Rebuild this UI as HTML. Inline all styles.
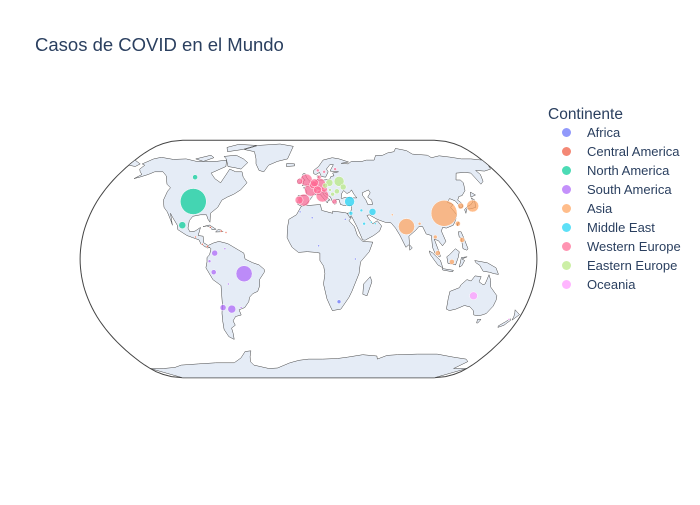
<!DOCTYPE html>
<html><head><meta charset="utf-8">
<style>
body{margin:0;background:#fff;font-family:"Liberation Sans",Arial,sans-serif;}
svg text{font-family:"Liberation Sans",Arial,sans-serif;fill:#2a3f5f;}
</style></head>
<body>
<svg id="chart" width="700" height="500" xmlns="http://www.w3.org/2000/svg">
<rect width="700" height="500" fill="#fff"/>
<text x="35" y="51" font-size="18.5">Casos de COVID en el Mundo</text>
<g id="map"></g>
<g id="bubbles"></g>
<g id="legend">
<text x="548" y="119" font-size="15.5">Continente</text>
</g>
</svg>
<script>
const continents = ["Africa","Central America","North America","South America","Asia","Middle East","Western Europe","Eastern Europe","Oceania"];
const colors = ["#636efa","#EF553B","#00cc96","#ab63fa","#FFA15A","#19d3f3","#FF6692","#B6E880","#FF97FF"];
const countries = ["USA","Canada","Mexico","Cuba","Dominican Rep.","Panama","Costa Rica","Guatemala","Puerto Rico","Brazil","Colombia","Peru","Chile","Argentina","Ecuador","Bolivia","Venezuela","Uruguay","South Africa","Algeria","Egypt","Morocco","Nigeria","Kenya","China","India","Japan","South Korea","Philippines","Thailand","Malaysia","Indonesia","Pakistan","Taiwan","Bangladesh","Turkey","Iran","Israel","Saudi Arabia","Qatar","Iraq","UAE","Spain","France","Italy","Germany","UK","Belgium","Netherlands","Switzerland","Portugal","Austria","Sweden","Norway","Denmark","Ireland","Finland","Greece","Belarus","Poland","Czechia","Romania","Ukraine","Serbia","Hungary","Australia","New Zealand"];
const countryContinent = [2,2,2,1,1,1,1,1,1,3,3,3,3,3,3,3,3,3,0,0,0,0,0,0,4,4,4,4,4,4,4,4,4,4,4,5,5,5,5,5,5,5,6,6,6,6,6,6,6,6,6,6,6,6,6,6,6,6,7,7,7,7,7,7,7,8,8];
const lons = [-98,-106,-102,-79,-70,-80,-84,-90,-66,-51,-74,-75,-71,-64,-78,-64,-66,-56,25,3,30,-7,8,37,112,79,138,128,122,101,102,113,69,121,90,35,53,35,45,51,44,54,-4,2,12,10,-2,4.5,5.5,8,-8,14,15,9,10,-8,26,22,28,19,15,25,31,21,19,134,172];
const lats = [39,56,23,21.5,19,8.5,10,15,18,-10,4,-9,-33,-34,-1.5,-17,7,-33,-29,28,27,32,9,0,31,22,36,36,13,15,4,-2,30,24,24,39,32,31,24,25,33,24,40,47,43,51,54,50.5,52,47,40,47.5,60,61,56,53,62,39,53,52,50,46,49,44,47,-25,-41];
const cases = [170000,6400,12500,1000,1300,1300,1000,1000,1000,66000,9000,6500,9000,16000,2200,1000,1000,1000,4000,1000,1000,1000,1000,1000,170000,66000,36000,9000,6500,4000,6500,6500,1000,6500,2200,25000,12500,4000,2200,1000,2200,1000,36000,40000,40000,36000,36000,16000,16000,16000,16000,9000,2200,2200,4000,9000,2200,6500,25000,12500,6500,6500,9000,4000,2200,16000,1000];

const SCALE=83.5, CX=308.5, CY=259, RMAX=13;
function proj(lon,lat){
  const l=lon*Math.PI/180, p=lat*Math.PI/180, p2=p*p, p4=p2*p2, p6=p4*p2, p8=p4*p4, p10=p8*p2, p12=p10*p2;
  const x=l*(0.8707-0.131979*p2-0.013791*p4+0.003971*p10-0.001529*p12);
  const y=p*(1.007226+0.015085*p2-0.044475*p6+0.028874*p8-0.005916*p10);
  return [CX+x*SCALE, CY-y*SCALE];
}
function pathOf(pts,close){return pts.map((q,i)=>{const r=proj(q[0],q[1]);return (i?'L':'M')+r[0].toFixed(1)+','+r[1].toFixed(1);}).join('')+(close?'Z':'');}
const NS='http://www.w3.org/2000/svg';
const map=document.getElementById('map');
let fr=[];for(let la=-90;la<=90;la+=3)fr.push([-180,la]);for(let la=90;la>=-90;la-=3)fr.push([180,la]);
const frame=document.createElementNS(NS,'path');frame.setAttribute('d',pathOf(fr,true));frame.setAttribute('fill','#fff');frame.setAttribute('stroke','#444');frame.setAttribute('stroke-width','1');


map.appendChild(frame);
const lands={
"north-america":[[-168,66],[-162,70],[-156,71.3],[-141,69.6],[-128,70],[-115,68],[-95,68],[-85,69],[-82,64],[-93,59],[-87,55],[-80,52],[-78,58],[-77,62],[-70,60],[-64,60],[-61,56],[-56,52],[-60,47],[-65,44],[-70,42],[-74,40],[-76,35],[-81,31],[-80,25],[-82,27],[-84,30],[-89,30],[-95,29],[-97,26],[-97,21],[-95,18.5],[-91,19],[-87,21.5],[-88,16],[-84,15.5],[-83,11],[-79,9],[-77,8],[-80,7.5],[-85,10],[-87,13],[-92,14.5],[-97,16],[-105,20],[-106,23],[-112,29],[-114,31],[-110,23],[-112,26],[-117,32],[-121,35],[-124,40],[-124,46],[-123,48.5],[-128,51],[-134,57],[-140,60],[-148,60],[-152,58],[-158,56],[-162,55],[-158,58],[-162,60],[-165,62],[-164,65]],
"greenland":[[-73,78],[-60,82],[-35,83.5],[-18,81],[-20,75],[-22,70],[-32,68],[-40,65],[-43,60],[-48,61],[-53,66],[-55,70],[-60,76]],
"baffin":[[-90,72],[-78,73],[-68,70],[-62,67],[-66,62],[-72,63],[-80,64],[-86,70]],
"victoria":[[-118,70],[-105,73],[-100,71],[-108,68]],
"ellesmere":[[-90,76],[-75,78],[-62,82],[-85,83],[-95,80]],
"south-america":[[-80,9],[-75,11],[-71,12],[-64,10.5],[-60,8.5],[-55,6],[-51,4],[-50,0],[-44,-2.5],[-39,-4],[-35,-7],[-35,-9],[-39,-14],[-39,-18],[-41,-22],[-45,-23.5],[-48,-26],[-49,-29],[-53,-33],[-58,-34.5],[-57,-38],[-62,-39],[-65,-42],[-64,-45],[-68,-47],[-68,-51],[-69,-55],[-73,-53],[-75,-48],[-74,-42],[-73,-37],[-71,-30],[-70,-18],[-76,-14],[-81,-6],[-80,-2],[-80,1],[-78,3],[-77,7]],
"africa":[[-17,21],[-16,27],[-10,30],[-6,36],[10,37],[11,33],[20,31],[20,32.5],[30,31.5],[32,31],[35,28],[33,26],[37,22],[39,16],[43,12],[51,11.5],[48,5],[41,-2],[40,-10],[35,-22],[33,-26],[27,-34],[20,-35],[18,-32],[15,-27],[12,-17],[13,-10],[12,-5],[9,-1],[9,4],[6,4.5],[-1,5],[-8,4.5],[-13,8],[-15,11],[-17,14.5]],
"madagascar":[[49,-12],[50.5,-15.5],[47.5,-25],[44,-24],[44,-17]],
"eurasia":[[-9,43],[-9,37],[-6,36],[-2,37],[0,39],[3,42],[3.5,43.5],[7,43.7],[10,44],[12.5,41.5],[16,38],[17,40],[18.5,40],[16,41.7],[13,44],[12.5,45.5],[14,45],[19,42],[20,39.5],[22,37],[24,38],[23,40.5],[26,40.5],[27,37],[30,36.3],[36,36.5],[36,34],[34.5,31.5],[32,31],[34,28],[35,29.5],[39,22],[43,13],[45,12.8],[52,16],[57,19],[59,22.5],[56,26],[52,24],[50,26.5],[48,29.5],[50,30],[56,27],[62,25],[67,24.5],[70,21],[73,16],[77,8],[80,10],[80,15.5],[86,19.5],[89,22],[92,22],[94,17],[98,16],[98,8],[100,3.5],[103.5,1.3],[104,2],[103,5],[100,13.5],[103,12.5],[106,9],[109,12],[106.5,19],[108,21.5],[111,21],[117,23],[120,26.5],[122,30],[121,32],[119,35],[122,37],[118,38.5],[121,41],[125,39.5],[126.5,37],[126.5,34.5],[129.5,35.5],[129.5,38],[127.5,40],[130,42.5],[133,43],[138,46.5],[141,52],[140,54],[136,54],[141,59],[150,59.5],[155,59],[156,51],[160,53],[163,58],[162,61],[170,60.5],[178,62],[180,65],[180,69],[170,70],[160,70],[150,71.5],[140,72.5],[130,71],[128,73],[113,74],[110,77],[100,79],[95,76],[87,75],[80,73],[72,72.8],[68,69],[60,69],[55,68],[44,68],[40,66],[33,66.5],[41,67.5],[32,70],[25,71],[15,69],[10,64],[5,61],[5,58.5],[7,58],[10.5,59.5],[12,56.5],[16,56],[19,60],[17.5,62],[21.5,65.5],[25,65.5],[22,62],[21,60.5],[29,60],[23,59],[24,57],[21,56.5],[19.5,54.4],[14,54],[11,54],[8.5,54],[9.5,57],[8,57],[8.5,55],[8,53.5],[5,53],[4,51.5],[2,51],[1.5,50],[-1.5,49.5],[-4.5,48.5],[-1.5,46],[-1.5,43.5]],
"chukotka":[[-180,65],[-172,64],[-170,66],[-180,69]],
"great-britain":[[-5,50],[1.5,51],[1.5,53],[-0.5,54.5],[-2,56],[-3,58.5],[-5,58.6],[-6,56.5],[-4.5,54.8],[-3,54],[-4.5,53.3],[-4.5,51.8],[-5.7,50]],
"ireland":[[-6,52],[-6,54.5],[-8,55.2],[-10,54],[-10,51.6]],
"iceland":[[-22,64],[-14,64.5],[-14,66],[-22,66.5]],
"japan":[[130,31],[132,34],[135,34],[140,35],[141,38],[142,40],[140,41.5],[140,39],[137,37],[133,35.5],[130,33.5]],
"hokkaido":[[140,42],[145,43.5],[142,45.5]],
"sri-lanka":[[80,6],[82,7.5],[80,9.7],[79.8,8]],
"taiwan":[[120.3,22.5],[121.9,25],[120.3,24]],
"philippines":[[120,18.5],[122.2,18.5],[124,13],[126,7],[125,6],[122,7],[121.5,14],[120,15]],
"borneo":[[109,1.5],[111,2.8],[116,7],[119,5],[118,1],[116,-4],[110,-3]],
"sumatra":[[95.3,5.5],[98,4],[104,-1],[106,-6],[102,-4],[96,3]],
"java":[[105.5,-6.5],[114.5,-7.7],[114,-8.7],[106,-7.5]],
"sulawesi":[[119,-5.5],[120.5,1],[125,1.5],[121,0],[123,-1],[121,-4.5]],
"new-guinea":[[131,-1],[141,-2.6],[148,-6],[150.5,-10.5],[147,-10],[143,-9],[138,-8.3],[135,-4.3],[132,-2.5]],
"australia":[[114,-22],[114,-27],[115,-34],[118,-35],[123,-34],[129,-31.6],[134,-32.5],[138,-35],[140,-38],[144,-38.5],[147,-38],[150,-37],[153,-32],[153.5,-28],[153,-25],[150,-22.5],[146,-19],[145,-14.5],[143,-10.7],[142,-14],[141,-17],[139.5,-17.5],[136,-15.5],[137,-12],[132,-11.5],[129.5,-15],[126,-14],[122,-17.5],[121,-19.5]],
"tasmania":[[145,-41],[148,-41],[147,-43.5],[146,-43.5]],
"nz-north":[[172.7,-34.5],[178.5,-37.7],[177,-39.5],[175,-41.5],[174.7,-39],[173.7,-36.5]],
"nz-south":[[172.7,-40.5],[174,-41.5],[171,-45],[167,-46.5],[166.5,-45.5],[170.5,-42.5]],
"cuba":[[-85,22],[-80,23.1],[-74.2,20.2],[-77.5,19.9],[-79,21.5],[-82,22.5]],
"hispaniola":[[-74.5,18.4],[-68.4,18.6],[-69.9,19.7],[-72.8,19.9]],
"antarctica":[[-180,-90],[-180,-78],[-165,-78],[-150,-77],[-140,-75],[-120,-74],[-100,-73],[-80,-73],[-70,-69],[-63,-64],[-57,-63.5],[-60,-68],[-62,-72],[-60,-75],[-45,-78],[-35,-77.5],[-20,-73],[-10,-71],[0,-70],[15,-70],[30,-69.5],[40,-68.5],[55,-66.5],[70,-67.5],[72,-70],[80,-67],[90,-66.5],[110,-66],[130,-66],[150,-68.5],[165,-70],[170,-72],[165,-78],[180,-78],[180,-90]]
};
for(const k in lands){
  const p=document.createElementNS(NS,'path');
  p.setAttribute('d',pathOf(lands[k],true));
  p.setAttribute('fill','#e5ecf6');p.setAttribute('stroke','#444');p.setAttribute('stroke-width','0.5');
  
  
  map.appendChild(p);
}
const seas={"caspian-sea":[[47,45],[53,47],[54,45],[51,42],[54,40],[54,37],[50,37],[49,40],[47,43]],
"black-sea":[[28,41.3],[29,44.5],[31,46.6],[33.5,44.5],[36,45.3],[38,47],[39.5,44],[41.5,41.5],[36,41.5],[32,41.9],[29,41.2]]};
for(const k in seas){
  const p=document.createElementNS(NS,'path');
  p.setAttribute('d',pathOf(seas[k],true));
  p.setAttribute('fill','#fff');p.setAttribute('stroke','#444');p.setAttribute('stroke-width','0.5');
  
  
  map.appendChild(p);
}
const bg=document.getElementById('bubbles');
const cmax=Math.max(...cases);
const order=cases.map((c,i)=>i).sort((a,b)=>cases[b]-cases[a]);
for(const i of order){
  const xy=proj(lons[i],lats[i]);
  const c=document.createElementNS(NS,'circle');
  c.setAttribute('cx',xy[0].toFixed(1));c.setAttribute('cy',xy[1].toFixed(1));
  c.setAttribute('r',Math.max(1,RMAX*Math.sqrt(cases[i]/cmax)).toFixed(2));
  c.setAttribute('fill',colors[countryContinent[i]]);c.setAttribute('fill-opacity','0.7');
  c.setAttribute('stroke','#fff');c.setAttribute('stroke-width','0.5');
  
  
  bg.appendChild(c);
}
const lg=document.getElementById('legend');
continents.forEach((n,i)=>{
  const y=132.5+19*i;
  const g=document.createElementNS(NS,'g');
  
  
  const c=document.createElementNS(NS,'circle');
  c.setAttribute('cx',566.5);c.setAttribute('cy',y);c.setAttribute('r',4.5);
  c.setAttribute('fill',colors[i]);c.setAttribute('fill-opacity','0.7');
  const t=document.createElementNS(NS,'text');
  t.setAttribute('x',587);t.setAttribute('y',y+4.5);t.setAttribute('font-size','13');t.textContent=n;
  g.appendChild(c);g.appendChild(t);lg.appendChild(g);
});
</script>
</body></html>
